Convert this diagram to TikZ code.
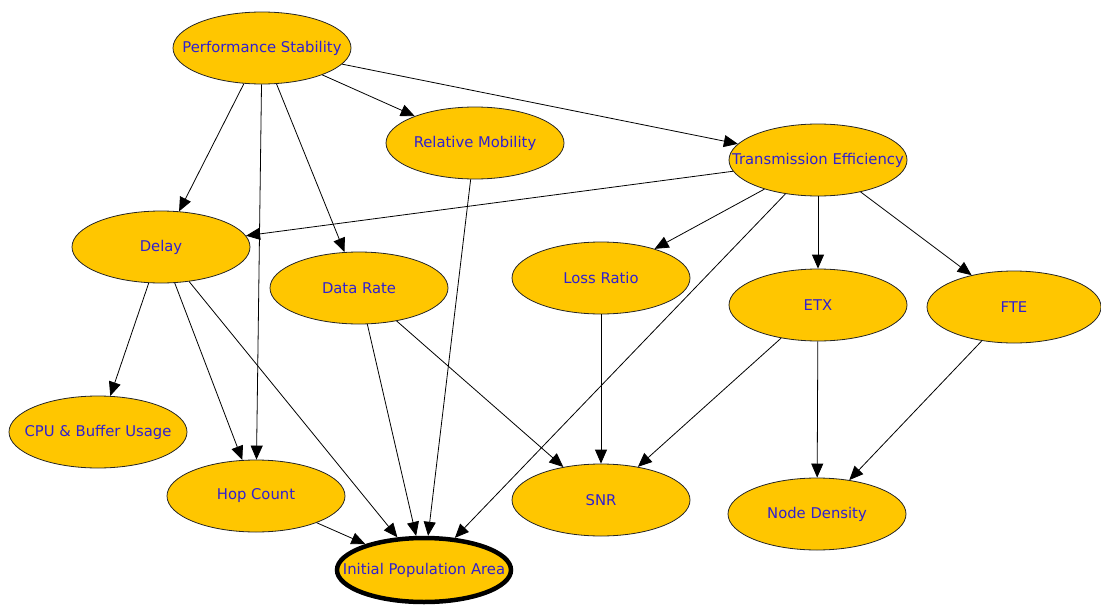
\documentclass[tikz,border=0pt]{standalone}
\usepackage{fontspec}
\setmainfont{DejaVu Sans}
\usetikzlibrary{shapes.geometric,arrows.meta}
\definecolor{nodefill}{HTML}{FFC600}
\definecolor{labelblue}{HTML}{3020D0}
\tikzset{
  var/.style={ellipse, draw=black!85, line width=0.8pt, fill=nodefill,
    minimum width=178pt, minimum height=72pt, inner sep=0pt,
    text=labelblue, font=\fontsize{14.8}{16}\selectfont},
  goal/.style={var, line width=4.5pt, draw=black, minimum width=174pt, minimum height=64pt},
  link/.style={draw=black, line width=0.8pt, -{Triangle[length=14pt,width=12pt]}}
}
\newcommand{\lbl}[1]{\makebox[0pt]{#1}}
\begin{document}
\begin{tikzpicture}[x=1pt,y=-1pt]
  \useasboundingbox (0,0) rectangle (1101,605);
  % variables
  \node[var] (ps)  at (262,48)  {\lbl{Performance Stability}};
  \node[var] (rm)  at (475,143) {\lbl{Relative Mobility}};
  \node[var] (te)  at (818,160) {\lbl{Transmission Efficiency}};
  \node[var] (dl)  at (161,247) {\lbl{Delay}};
  \node[var] (dr)  at (359,288) {\lbl{Data Rate}};
  \node[var] (lr)  at (601,278) {\lbl{Loss Ratio}};
  \node[var] (etx) at (818,305) {\lbl{ETX}};
  \node[var, minimum width=174pt] (fte) at (1014,307) {\lbl{FTE}};
  \node[var] (cpu) at (98,432)  {\lbl{CPU \& Buffer Usage}};
  \node[var] (hop) at (256,496) {\lbl{Hop Count}};
  \node[var] (snr) at (601,500) {\lbl{SNR}};
  \node[var] (nd)  at (817,514) {\lbl{Node Density}};
  \node[goal] (ipa) at (424,570) {\lbl{Initial Population Area}};
  % dependencies
  \draw[link] (ps) -- (dl);
  \draw[link] (ps) -- (hop);
  \draw[link] (ps) -- (dr);
  \draw[link] (ps) -- (rm);
  \draw[link] (ps) -- (te);
  \draw[link] (rm) -- (ipa);
  \draw[link] (te) -- (dl);
  \draw[link] (te) -- (lr);
  \draw[link] (te) -- (ipa);
  \draw[link] (te) -- (etx);
  \draw[link] (te) -- (fte);
  \draw[link] (dl) -- (cpu);
  \draw[link] (dl) -- (hop);
  \draw[link] (dl) -- (ipa);
  \draw[link] (dr) -- (ipa);
  \draw[link] (dr) -- (snr);
  \draw[link] (lr) -- (snr);
  \draw[link] (etx) -- (snr);
  \draw[link] (etx) -- (nd);
  \draw[link] (fte) -- (nd);
  \draw[link] (hop) -- (ipa);
\end{tikzpicture}
\end{document}
